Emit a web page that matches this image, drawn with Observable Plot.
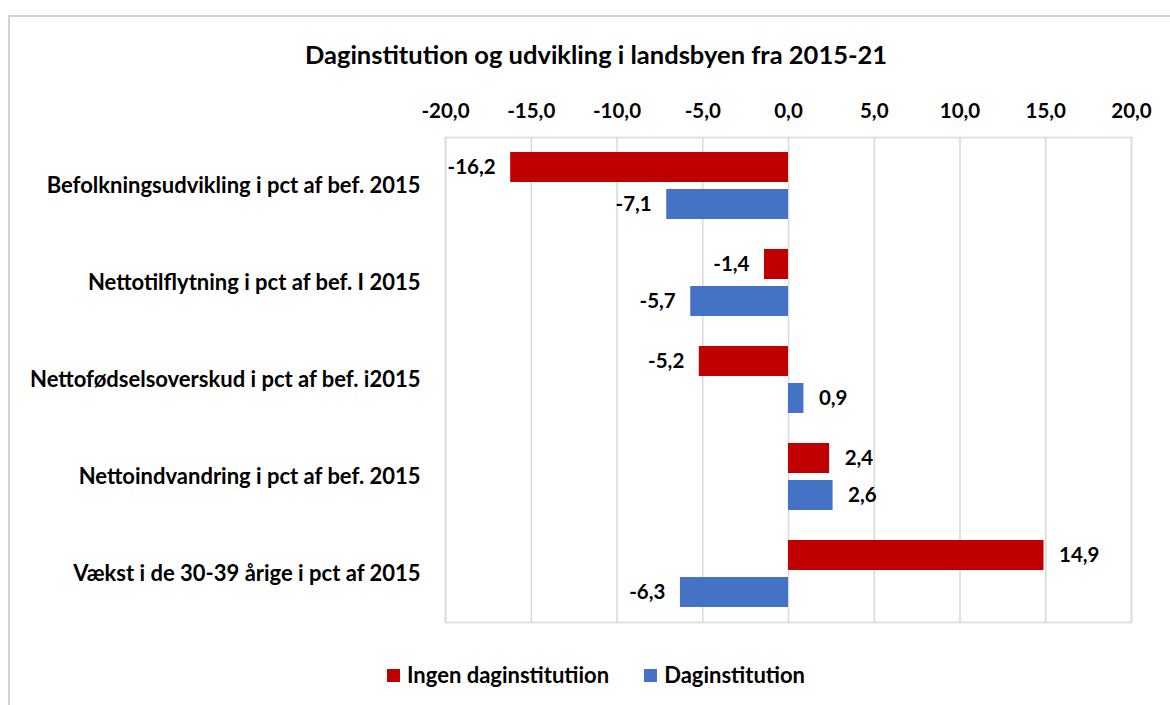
<!DOCTYPE html>
<html>
<head>
<meta charset="utf-8">
<script src="https://cdn.jsdelivr.net/npm/d3@7"></script>
<script src="https://cdn.jsdelivr.net/npm/@observablehq/plot@0.6"></script>
<style>
  html, body { margin: 0; padding: 0; background: #fff; width: 1170px; height: 705px; overflow: hidden; }
  body { position: relative; font-family: Lato, "Open Sans", sans-serif; color: #000; }
  #border { position: absolute; left: 8px; top: 15px; width: 1200px; height: 720px; border: 2px solid #d2d2d2; box-sizing: border-box; }
  #title { position: absolute; left: 8px; width: 1176px; top: 39px; text-align: center; font-weight: bold; font-size: 25.5px; line-height: 30px; }
  #chart { position: absolute; left: 0; top: 0; }
  #legend { position: absolute; left: 387px; top: 662px; display: flex; align-items: center; font-weight: bold; font-size: 22px; line-height: 26px; }
  .sw { width: 13px; height: 13px; display: inline-block; margin-right: 7px; }
  .item { display: flex; align-items: center; margin-right: 35px; }
</style>
</head>
<body>
<div id="border"></div>
<div id="title">Daginstitution og udvikling i landsbyen fra 2015-21</div>
<div id="chart"></div>
<div id="legend"></div>
<script>
const categories = [
  "Befolkningsudvikling i pct af bef. 2015",
  "Nettotilflytning i pct af bef. I 2015",
  "Nettofødselsoverskud i pct af bef. i2015",
  "Nettoindvandring i pct af bef. 2015",
  "Vækst i de 30-39 årige i pct af 2015"
];
const seriesNames = ["Ingen daginstitutiion", "Daginstitution"];
const ingenValues = [-16.2, -1.4, -5.2, 2.4, 14.9];
const dagValues = [-7.1, -5.7, 0.9, 2.6, -6.3];
const xTicks = [-20, -15, -10, -5, 0, 5, 10, 15, 20];
const seriesColors = ["#c00000", "#4472c4"];

const locale = d3.formatLocale({decimal: ",", thousands: ".", grouping: [3], currency: ["", ""], minus: "-"});
const fmt = locale.format(".1f");

const data = [];
categories.forEach((c, i) => {
  data.push({category: c, series: seriesNames[0], value: ingenValues[i]});
  data.push({category: c, series: seriesNames[1], value: dagValues[i]});
});

const chart = Plot.plot({
  width: 1170,
  height: 705,
  marginTop: 135,
  marginBottom: 82,
  marginLeft: 445,
  marginRight: 39,
  style: {fontFamily: "Lato, 'Open Sans', sans-serif", fontSize: "20px", fontWeight: "bold", color: "#000", background: "transparent"},
  x: {domain: [-20, 20], axis: null},
  y: {domain: seriesNames, paddingInner: 0.196, paddingOuter: 0.406, axis: null},
  fy: {domain: categories, padding: 0, axis: null},
  color: {domain: seriesNames, range: seriesColors},
  marks: [
    Plot.gridX(xTicks, {stroke: "#dadada", strokeOpacity: 1, strokeWidth: 1.6}),
    Plot.frame({facet: "super", stroke: "#dadada", strokeWidth: 1.6}),
    Plot.barX(data, {x: "value", y: "series", fy: "category", fill: "series"}),
    Plot.text(data, {filter: d => d.value < 0, x: "value", y: "series", fy: "category", text: d => fmt(d.value), textAnchor: "end", dx: -15, fill: "#000", fontSize: 20.5}),
    Plot.text(data, {filter: d => d.value >= 0, x: "value", y: "series", fy: "category", text: d => fmt(d.value), textAnchor: "start", dx: 15, fill: "#000", fontSize: 20.5}),
    Plot.axisX(xTicks, {anchor: "top", tickSize: 0, tickPadding: 20, tickFormat: fmt, label: null, fontSize: 20.5}),
    Plot.axisFy({anchor: "left", tickSize: 0, tickPadding: 25, label: null, fontSize: 22})
  ]
});
document.getElementById("chart").appendChild(chart);

const legend = document.getElementById("legend");
seriesNames.forEach((s, i) => {
  const item = document.createElement("div");
  item.className = "item";
  const sw = document.createElement("span");
  sw.className = "sw";
  sw.style.background = seriesColors[i];
  item.appendChild(sw);
  item.appendChild(document.createTextNode(s));
  legend.appendChild(item);
});
</script>
</body>
</html>
